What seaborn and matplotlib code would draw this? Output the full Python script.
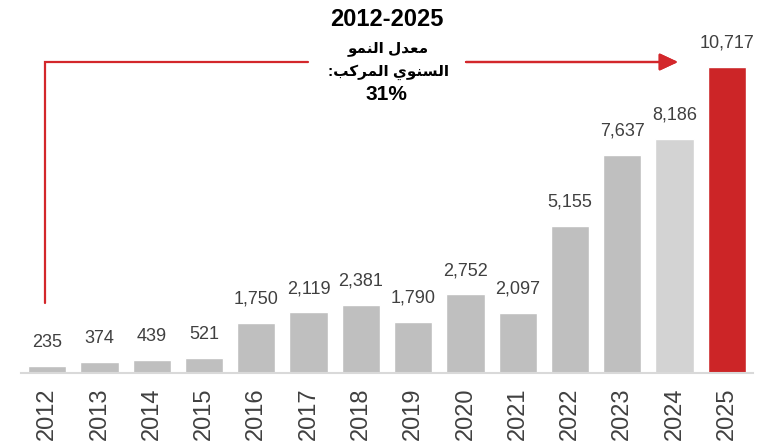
import matplotlib
matplotlib.use("Agg")
import matplotlib.pyplot as plt
from matplotlib.lines import Line2D
import seaborn as sns
import pandas as pd

# Yearly totals
years = ["2012", "2013", "2014", "2015", "2016", "2017", "2018",
         "2019", "2020", "2021", "2022", "2023", "2024", "2025"]
values = [235, 374, 439, 521, 1750, 2119, 2381,
          1790, 2752, 2097, 5155, 7637, 8186, 10717]
bar_colors = ["#BFBFBF"] * 12 + ["#D3D3D3", "#CC2527"]

period_label = "2012-2025"
# Arabic caption, written in shaped presentation forms (visual order)
cagr_line1 = "\uFEEE\uFEE4\uFEE8\uFEDF\uFE8D \uFEDD\uFEAA\uFECC\uFEE3"          # معدل النمو
cagr_line2 = ":\uFE90\uFEDB\uFEAE\uFEE4\uFEDF\uFE8D \uFEF1\uFEEE\uFEE8\uFEB4\uFEDF\uFE8D"  # السنوي المركب:
cagr_value = "31%"

sns.set_theme(style="white")
plt.rcParams["font.family"] = ["Liberation Sans", "DejaVu Sans"]

W, H = 781, 448
fig = plt.figure(figsize=(W / 100, H / 100), dpi=100)
fig.patch.set_facecolor("white")

def fx(x):
    return x / W

def fy(y):
    return 1 - y / H

ax_left, ax_right, ax_base, ax_top = 21, 753, 373, 20
ax = fig.add_axes([fx(ax_left), fy(ax_base), (ax_right - ax_left) / W, (ax_base - ax_top) / H])

df = pd.DataFrame({"year": years, "value": values})
sns.barplot(data=df, x="year", y="value", hue="year", palette=bar_colors,
            order=years, hue_order=years, legend=False, width=0.73,
            saturation=1, ax=ax)

ax.set_xlim(-0.5, 13.5)
ax.set_ylim(0, values[-1] * (ax_base - ax_top) / 306)

for cont in ax.containers:
    ax.bar_label(cont, labels=[f"{int(b.get_height()):,}" for b in cont],
                 padding=11, fontsize=13, color="#404040")

ax.set_xlabel("")
ax.set_ylabel("")
ax.set_yticks([])
ax.tick_params(axis="x", length=0, pad=10.5, labelsize=17, labelcolor="#404040",
               labelrotation=90)
for side in ["top", "right", "left"]:
    ax.spines[side].set_visible(False)
ax.spines["bottom"].set_color("#D9D9D9")
ax.spines["bottom"].set_linewidth(1.5)
ax.set_facecolor("white")

# Growth arrow
red = "#D3272B"
fig.add_artist(Line2D([fx(45), fx(45), fx(308)], [fy(303), fy(62), fy(62)],
                      transform=fig.transFigure, color=red, linewidth=1.6,
                      solid_joinstyle="miter"))
fig.add_artist(plt.annotate("", xy=(fx(678), fy(62)), xytext=(fx(466), fy(62)),
                            xycoords=fig.transFigure, textcoords=fig.transFigure,
                            arrowprops=dict(arrowstyle="-|>,head_length=0.75,head_width=0.35",
                                            mutation_scale=15, color=red, linewidth=1.6,
                                            shrinkA=0, shrinkB=0)))

fig.text(fx(387), fy(20), period_label, ha="center", va="center",
         fontsize=17, fontweight="bold", color="black")
fig.text(fx(388), fy(49), cagr_line1, ha="center", va="center",
         fontsize=11, fontweight="bold", color="black")
fig.text(fx(389), fy(72), cagr_line2, ha="center", va="center",
         fontsize=11, fontweight="bold", color="black")
fig.text(fx(386), fy(95), cagr_value, ha="center", va="center",
         fontsize=15, fontweight="bold", color="black")

fig.savefig("out.png", dpi=100, facecolor="white")
